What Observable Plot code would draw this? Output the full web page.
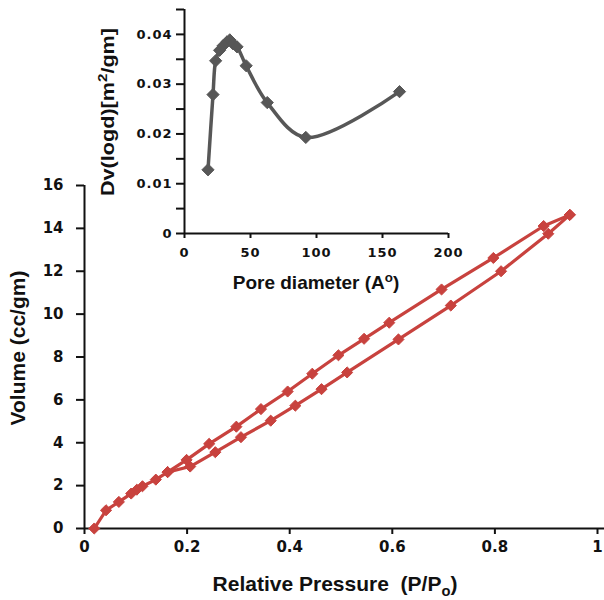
<!DOCTYPE html>
<html>
<head>
<meta charset="utf-8">
<script src="https://cdn.jsdelivr.net/npm/d3@7"></script>
<script src="https://cdn.jsdelivr.net/npm/@observablehq/plot@0.6"></script>
<style>
  body { margin: 0; background: white; }
  #wrap { position: relative; width: 604px; height: 600px; overflow: hidden; background: white; }
  #wrap svg { position: absolute; left: 0; top: 0; }
  .ttl { position: absolute; white-space: nowrap; font-family: "Liberation Sans", Arial, sans-serif; font-weight: bold; color: #111; line-height: 1; }
  .ttl sub, .ttl sup { font-size: 70%; line-height: 0; }
</style>
</head>
<body>
<div id="wrap"></div>
<script>
// Main isotherm: adsorption (lower) branch
const adsP = [0.019, 0.042, 0.067, 0.091, 0.102, 0.113, 0.139, 0.162, 0.206, 0.255, 0.305, 0.363, 0.411, 0.462, 0.512, 0.612, 0.714, 0.812, 0.904, 0.946];
const adsV = [0.0, 0.85, 1.24, 1.63, 1.81, 1.97, 2.28, 2.63, 2.89, 3.56, 4.26, 5.03, 5.73, 6.50, 7.28, 8.82, 10.40, 12.00, 13.75, 14.63];
// Desorption (upper) branch
const desP = [0.946, 0.895, 0.797, 0.696, 0.594, 0.545, 0.495, 0.444, 0.396, 0.344, 0.296, 0.243, 0.199, 0.162];
const desV = [14.63, 14.11, 12.62, 11.15, 9.60, 8.85, 8.08, 7.22, 6.39, 5.57, 4.75, 3.95, 3.20, 2.63];
// Inset: pore size distribution
const poreD = [17.8, 21.6, 23.6, 26.6, 29.2, 32.2, 34.3, 36.8, 39.8, 46.7, 62.7, 91.9, 162.9];
const dvLog = [0.0128, 0.0279, 0.0347, 0.0368, 0.0377, 0.0385, 0.0389, 0.0381, 0.0375, 0.0337, 0.0263, 0.0193, 0.0285];

const mainXTicks = [0, 0.2, 0.4, 0.6, 0.8, 1];
const mainYTicks = [0, 2, 4, 6, 8, 10, 12, 14, 16];
const insetXTicks = [0, 50, 100, 150, 200];
const insetYTicks = [0, 0.005, 0.01, 0.015, 0.02, 0.025, 0.03, 0.035, 0.04, 0.045];
const insetYLabels = [0, 0.01, 0.02, 0.03, 0.04];

const ads = adsP.map((p, i) => ({p, v: adsV[i]}));
const des = desP.map((p, i) => ({p, v: desV[i]}));
const psd = poreD.map((d, i) => ({d, v: dvLog[i]}));

const RED = "#c8423e";
const GRAY = "#575757";

const main = Plot.plot({
  width: 604, height: 600,
  marginLeft: 84, marginRight: 7, marginTop: 185, marginBottom: 72,
  x: {domain: [0, 1]},
  y: {domain: [0, 16]},
  style: {fontFamily: "DejaVu Sans", fontWeight: "bold", fontSize: "15px", color: "#111", background: "transparent"},
  marks: [
    Plot.axisY({ticks: mainYTicks, tickSize: 8, tickPadding: 13, strokeWidth: 2, label: null, tickFormat: d => String(d)}),
    Plot.axisX({ticks: mainXTicks, tickSize: 6, tickPadding: 7, strokeWidth: 2, label: null,
      tickFormat: d => (d === 0 || d === 1) ? String(d) : d.toFixed(1)}),
    Plot.ruleX([0], {y1: 0, y2: 16, strokeWidth: 2, stroke: "#111"}),
    Plot.ruleY([0], {x1: 0, x2: 1.02, strokeWidth: 2, stroke: "#111"}),
    Plot.line(ads, {x: "p", y: "v", stroke: RED, strokeWidth: 3.2}),
    Plot.line(des, {x: "p", y: "v", stroke: RED, strokeWidth: 3.2}),
    Plot.dot(ads, {x: "p", y: "v", symbol: "diamond2", r: 5, fill: RED, stroke: RED, strokeWidth: 1}),
    Plot.dot(des, {x: "p", y: "v", symbol: "diamond2", r: 5, fill: RED, stroke: RED, strokeWidth: 1})
  ]
});

const inset = Plot.plot({
  width: 604, height: 300,
  marginLeft: 184, marginRight: 156, marginTop: 9, marginBottom: 67,
  x: {domain: [0, 200]},
  y: {domain: [0, 0.045]},
  style: {fontFamily: "DejaVu Sans", fontWeight: "bold", fontSize: "13px", color: "#111", background: "transparent", letterSpacing: "1px"},
  marks: [
    Plot.axisY({ticks: insetYTicks, tickSize: 8, tickPadding: 4, strokeWidth: 2, label: null,
      tickFormat: d => insetYLabels.some(t => Math.abs(t - d) < 1e-9) ? (d === 0 ? "0" : d.toFixed(2)) : ""}),
    Plot.axisX({ticks: insetXTicks, tickSize: 5, tickPadding: 9, strokeWidth: 2, label: null, tickFormat: d => String(d)}),
    Plot.ruleX([0], {y1: 0, y2: 0.045, strokeWidth: 2, stroke: "#111"}),
    Plot.ruleY([0], {x1: 0, x2: 200, strokeWidth: 2, stroke: "#111"}),
    Plot.line(psd, {x: "d", y: "v", stroke: GRAY, strokeWidth: 3.5, curve: "catmull-rom"}),
    Plot.dot(psd, {x: "d", y: "v", symbol: "diamond2", r: 5.5, fill: GRAY, stroke: GRAY, strokeWidth: 1})
  ]
});

const wrap = document.getElementById("wrap");
wrap.appendChild(main);
wrap.appendChild(inset);

function addTitle(html, css) {
  const el = document.createElement("div");
  el.className = "ttl";
  el.innerHTML = html;
  Object.assign(el.style, css);
  wrap.appendChild(el);
}
addTitle("Relative Pressure&nbsp;&nbsp;(P/P<sub>o</sub>)", {left: "335px", top: "573px", fontSize: "21px", transform: "translateX(-50%)"});
addTitle("Volume (cc/gm)", {left: "17px", top: "348px", fontSize: "21px", transform: "translate(-50%,-50%) rotate(-90deg)"});
addTitle("Pore diameter (A<sup>o</sup>)", {left: "316px", top: "273px", fontSize: "19px", transform: "translateX(-50%)"});
addTitle("Dv(logd)[m<sup>2</sup>/gm]", {left: "108px", top: "112px", fontSize: "18px", transform: "translate(-50%,-50%) rotate(-90deg) scaleX(1.2)"});
</script>
</body>
</html>
